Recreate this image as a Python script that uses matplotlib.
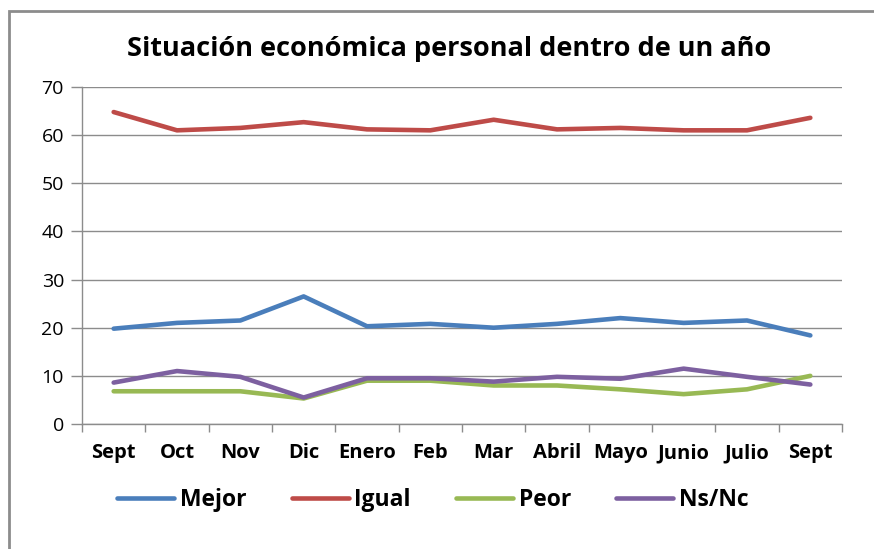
import matplotlib
matplotlib.use("Agg")
import matplotlib.pyplot as plt
from matplotlib.patches import Rectangle

months = ["Sept", "Oct", "Nov", "Dic", "Enero", "Feb", "Mar", "Abril", "Mayo", "Junio", "Julio", "Sept"]
mejor = [19.8, 21.0, 21.5, 26.5, 20.3, 20.8, 20.0, 20.8, 22.0, 21.0, 21.5, 18.4]
igual = [64.8, 61.0, 61.5, 62.7, 61.2, 61.0, 63.2, 61.2, 61.5, 61.0, 61.0, 63.6]
peor = [6.8, 6.8, 6.8, 5.3, 9.0, 9.0, 8.0, 8.0, 7.2, 6.2, 7.2, 10.0]
nsnc = [8.6, 11.0, 9.8, 5.5, 9.5, 9.5, 8.8, 9.8, 9.4, 11.5, 9.8, 8.2]
yticks = [0, 10, 20, 30, 40, 50, 60, 70]

plt.rcParams['font.family'] = ['Open Sans', 'DejaVu Sans']

fig = plt.figure(figsize=(8.74, 5.49), dpi=100)
fig.patches.append(Rectangle((9/874, -0.2), 1, 1.2 - 11/549, transform=fig.transFigure,
                             fill=False, edgecolor='#8c8c8c', linewidth=2, zorder=0))

ax = fig.add_axes([82/874, 1 - 424/549, (842-82)/874, (424-87)/549])
x = list(range(len(months)))
series = [(mejor, 'Mejor', '#4a7ebb'), (igual, 'Igual', '#be4b48'),
          (peor, 'Peor', '#98b954'), (nsnc, 'Ns/Nc', '#7d60a0')]
for vals, lab, col in series:
    ax.plot(x, vals, color=col, linewidth=3.3, label=lab, solid_capstyle='round')

ax.set_xlim(-0.5, len(months) - 0.5)
ax.set_ylim(0, 70)
ax.set_yticks(yticks)
ax.set_yticklabels([str(v) for v in yticks], fontsize=14)
ax.yaxis.grid(True, color='#8c8c8c', linewidth=1)
ax.set_axisbelow(True)
ax.set_xticks(x)
ax.set_xticklabels(months, fontsize=14.5, fontweight='bold')
ax.set_xticks([i - 0.5 for i in range(len(months) + 1)], minor=True)
ax.tick_params(axis='x', which='major', length=0, pad=14)
ax.tick_params(axis='x', which='minor', length=6, color='#8c8c8c', width=1)
ax.tick_params(axis='y', length=8, color='#8c8c8c', width=1, pad=5)
for s in ['top', 'right']:
    ax.spines[s].set_visible(False)
for s in ['left', 'bottom']:
    ax.spines[s].set_color('#8c8c8c')
    ax.spines[s].set_linewidth(1)

fig.text(449/874, 1 - 49/549, "Situación económica personal dentro de un año",
         ha='center', va='center', fontsize=19.5, fontweight='bold')

fs = 16.5
px = fs * 100 / 72
leg = fig.legend(loc='center left', bbox_to_anchor=(117/874, 1 - 500/549), ncol=4, frameon=False,
                 prop={'size': fs, 'weight': 'bold'}, handlelength=57/px, handletextpad=6/px,
                 columnspacing=45/px, borderpad=0, borderaxespad=0)

fig.savefig("out.png", dpi=100)
